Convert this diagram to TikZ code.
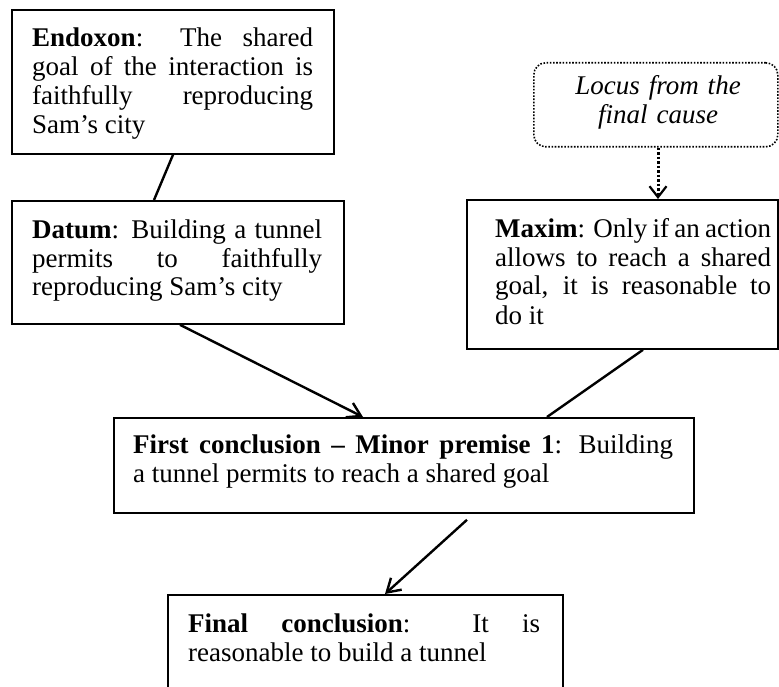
\documentclass[tikz,border=0pt]{standalone}
\usepackage{fontspec}
\setmainfont{Liberation Serif}
\usetikzlibrary{arrows.meta,calc}
\newcommand{\mytextsetup}{\fontsize{27}{29}\selectfont\tolerance=10000\relax\hyphenpenalty=10000\relax\exhyphenpenalty=10000\relax}
\tikzset{
  box/.style={draw, line width=1.8pt, rectangle, inner sep=0pt, anchor=north west},
  txtfont/.style={font=\mytextsetup},
  txt/.style={txtfont, inner sep=0pt, anchor=base west, align=justify},
  conn/.style={line width=2.4pt},
  arr/.style={conn, -{Straight Barb[length=13pt,width=16pt]}},
  dotarr/.style={line width=3pt, dash pattern=on 2.5pt off 2pt, -{Straight Barb[length=11pt,width=17pt,line width=2.2pt]}},
}
\begin{document}
\tolerance=10000\relax
\hyphenpenalty=10000\relax
\begin{tikzpicture}[x=1pt,y=-1pt]
\useasboundingbox (0,0) rectangle (779,687);
\clip (0,0) rectangle (779,687);
% boxes
\node[box, minimum width=322pt, minimum height=144pt] (endoxon) at (11,9) {};
\node[box, minimum width=332pt, minimum height=123pt] (datum) at (11,200) {};
\node[box, minimum width=311pt, minimum height=149pt] (maxim) at (466,199) {};
\node[box, line width=1.6pt, rounded corners=12pt, dash pattern=on 1.6pt off 1.6pt, minimum width=244pt, minimum height=84pt] (locus) at (533,62) {};
\node[box, minimum width=580pt, minimum height=95pt] (first) at (113,417) {};
\node[box, minimum width=395pt, minimum height=115pt] (final) at (167,594) {};
% texts
\node[txt, text width=281pt] (endoxonT) at (32,47) {\textbf{Endoxon}: The shared\linebreak goal of the interaction is\linebreak faithfully reproducing\linebreak Sam’s city};
\node[txt, text width=290pt] (datumT) at (32,238) {\textbf{Datum}: Building a tunnel\linebreak permits to faithfully\linebreak reproducing Sam’s city};
\node[txt, text width=276pt] (maximT) at (495,237) {\textbf{Maxim}: Only if an action\linebreak allows to reach a shared\linebreak goal, it is reasonable to\linebreak do it};
\node[txtfont, inner sep=0pt, anchor=base, align=center, text width=240pt] (locusT) at (658,95) {\itshape Locus from the\\final cause};
\node[txt, text width=540pt] (firstT) at (133,453) {\textbf{First conclusion – Minor premise 1}: Building\linebreak a tunnel permits to reach a shared goal};
\node[txt, text width=352pt] (finalT) at (188,632) {\textbf{Final conclusion}: It is\linebreak reasonable to build a tunnel};
% connectors
\draw[conn] ($(endoxon.south west)+(162,0)$) -- ($(datum.north west)+(143,0)$);
\draw[arr] ($(datum.south west)+(169,0)$) -- ($(first.north west)+(250,0)$);
\draw[dotarr] ($(locus.south west)+(125,0)$) -- ($(maxim.north west)+(192,0)$);
\draw[conn] ($(maxim.south west)+(177,0)$) -- ($(first.north west)+(434,0)$);
\draw[arr] ($(first.south west)+(354,6)$) -- ($(final.north west)+(218,0)$);
\end{tikzpicture}
\end{document}
